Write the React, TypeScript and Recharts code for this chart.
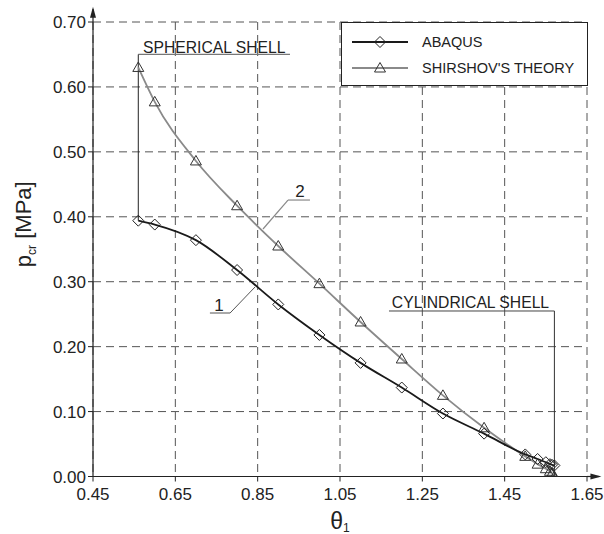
import {
  LineChart,
  Line,
  XAxis,
  YAxis,
  CartesianGrid,
  ReferenceLine,
  ReferenceDot,
  Legend,
} from "recharts";

const FONT = '"Liberation Sans", Arial, Helvetica, sans-serif';

const thetaTicks = [0.45, 0.65, 0.85, 1.05, 1.25, 1.45, 1.65];
const pressureTicks = [0, 0.1, 0.2, 0.3, 0.4, 0.5, 0.6, 0.7];

// theta_1 [rad] at which both solutions were evaluated
const theta = [0.56, 0.6, 0.7, 0.8, 0.9, 1.0, 1.1, 1.2, 1.3, 1.4, 1.5, 1.53, 1.55, 1.56, 1.565, 1.5708];
const abaqusP = [0.394, 0.388, 0.364, 0.318, 0.265, 0.218, 0.175, 0.137, 0.097, 0.066, 0.034, 0.027, 0.022, 0.019, 0.018, 0.017];
const shirshovP = [0.63, 0.577, 0.486, 0.417, 0.355, 0.297, 0.238, 0.181, 0.125, 0.075, 0.031, 0.019, 0.012, 0.008, 0.005, 0.0];

const abaqusData = theta.map((t, i) => ({ theta: t, p: abaqusP[i] }));
const shirshovData = theta.map((t, i) => ({ theta: t, p: shirshovP[i] }));

// annotation anchors, in data units
const spherical = { x0: 0.56, x1: 0.9285, y: 0.65, yEnd: 0.394, textX: 0.5715, textY: 0.6528 };
const cylindrical = { x0: 1.169, x1: 1.5708, y: 0.2549, textX: 1.176, textY: 0.2595 };
const label1 = { text: "1", tx: 0.756, ty: 0.2554, x0: 0.734, x1: 0.783, y: 0.2518, px: 0.8435, py: 0.2918 };
const label2 = { text: "2", tx: 0.953, ty: 0.4305, x0: 0.9237, x1: 0.977, y: 0.4258, px: 0.863, py: 0.3812 };

const diamond = (cx: number, cy: number, key?: string) => (
  <path
    key={key}
    d={`M${cx},${cy - 5.5}L${cx + 5.5},${cy}L${cx},${cy + 5.5}L${cx - 5.5},${cy}Z`}
    fill="none"
    stroke="#222"
    strokeWidth={1}
  />
);

const triangle = (cx: number, cy: number, key?: string) => (
  <path
    key={key}
    d={`M${cx},${cy - 5.5}L${cx + 5.5},${cy + 4}L${cx - 5.5},${cy + 4}Z`}
    fill="none"
    stroke="#333"
    strokeWidth={1}
  />
);

function LegendBox({ payload }: any) {
  const items = payload || [];
  return (
    <div
      style={{
        width: 247,
        height: 64,
        boxSizing: "border-box",
        border: "1.5px solid #222",
        background: "#fff",
        position: "relative",
        fontFamily: FONT,
        fontSize: 14.5,
        color: "#222",
      }}
    >
      {items.map((entry: any, i: number) => (
        <div
          key={entry.value}
          style={{ position: "absolute", left: 0, top: 11 + i * 26, height: 16, width: "100%" }}
        >
          <svg width={70} height={16} style={{ position: "absolute", left: 10, top: 0 }}>
            <line x1={0} y1={8} x2={56} y2={8} stroke={entry.color} strokeWidth={1.8} />
            {i === 0 ? diamond(28, 8) : triangle(28, 8)}
          </svg>
          <span style={{ position: "absolute", left: 80, top: 0, lineHeight: "16px", whiteSpace: "nowrap" }}>
            {entry.value}
          </span>
        </div>
      ))}
    </div>
  );
}

const annotationText = (text: string, size: number, anchor: "start" | "middle") => (p: any) => (
  <text x={p.cx} y={p.cy} fontFamily={FONT} fontSize={size} fill="#222" textAnchor={anchor}>
    {text}
  </text>
);

function PressureLabel({ viewBox }: any) {
  const cx = viewBox.x + 31;
  const cy = viewBox.y + viewBox.height / 2 - 25;
  return (
    <text
      x={cx}
      y={cy}
      transform={`rotate(-90 ${cx} ${cy})`}
      textAnchor="middle"
      fontFamily={FONT}
      fontSize={22}
      fill="#222"
    >
      <tspan>p</tspan>
      <tspan fontSize={12} dy={5}>cr</tspan>
      <tspan dy={-5}> [MPa]</tspan>
    </text>
  );
}

function ThetaLabel({ viewBox }: any) {
  const cx = viewBox.x + viewBox.width / 2;
  const cy = viewBox.y + 52;
  return (
    <text x={cx} y={cy} textAnchor="middle" fontFamily={FONT} fontSize={23} fill="#222">
      <tspan>θ</tspan>
      <tspan fontSize={12} dy={3}>1</tspan>
    </text>
  );
}

export default function App() {
  return (
    <div style={{ position: "absolute", left: 0, top: 0, width: 604, height: 534, background: "#fff" }}>
      <LineChart
        width={604}
        height={534}
        margin={{ top: 22, right: 17, left: 0, bottom: 0 }}
        style={{ fontFamily: FONT }}
      >
        <CartesianGrid
          stroke="#555"
          strokeDasharray="8 5"
          strokeWidth={1}
          horizontalValues={pressureTicks}
          verticalValues={thetaTicks}
        />
        <XAxis
          type="number"
          dataKey="theta"
          domain={[0.45, 1.65]}
          ticks={thetaTicks}
          interval={0}
          allowDataOverflow
          tickFormatter={(v: number) => v.toFixed(2)}
          tick={{ fill: "#222", fontSize: 17, fontFamily: FONT }}
          tickSize={5}
          tickMargin={6}
          axisLine={{ stroke: "#222", strokeWidth: 1.2 }}
          tickLine={{ stroke: "#222" }}
          height={57.5}
          label={(props: any) => <ThetaLabel {...props} />}
        />
        <YAxis
          type="number"
          dataKey="p"
          domain={[0, 0.7]}
          ticks={pressureTicks}
          interval={0}
          allowDataOverflow
          tickFormatter={(v: number) => v.toFixed(2)}
          tick={{ fill: "#222", fontSize: 17, fontFamily: FONT }}
          tickSize={5}
          tickMargin={2}
          axisLine={{ stroke: "#222", strokeWidth: 1.2 }}
          tickLine={{ stroke: "#222" }}
          width={93}
          label={(props: any) => <PressureLabel {...props} />}
        />

        {/* axis arrows */}
        <ReferenceLine segment={[{ x: 0.45, y: 0.7 }, { x: 0.45, y: 0.72 }]} stroke="#222" strokeWidth={1.2} ifOverflow="visible" />
        <ReferenceLine segment={[{ x: 1.65, y: 0 }, { x: 1.68, y: 0 }]} stroke="#222" strokeWidth={1.2} ifOverflow="visible" />
        <ReferenceDot
          x={0.45}
          y={0.7235}
          ifOverflow="visible"
          shape={(p: any) => <path d={`M${p.cx},${p.cy}L${p.cx + 3},${p.cy + 11}L${p.cx - 3},${p.cy + 11}Z`} fill="#222" />}
        />
        <ReferenceDot
          x={1.685}
          y={0}
          ifOverflow="visible"
          shape={(p: any) => <path d={`M${p.cx},${p.cy}L${p.cx - 11},${p.cy - 3}L${p.cx - 11},${p.cy + 3}Z`} fill="#222" />}
        />

        {/* spherical shell callout */}
        <ReferenceLine segment={[{ x: spherical.x0, y: spherical.y }, { x: spherical.x1, y: spherical.y }]} stroke="#777" strokeWidth={1.2} ifOverflow="visible" />
        <ReferenceLine segment={[{ x: spherical.x0, y: spherical.y }, { x: spherical.x0, y: spherical.yEnd }]} stroke="#222" strokeWidth={1} ifOverflow="visible" />
        <ReferenceDot x={spherical.textX} y={spherical.textY} ifOverflow="visible" shape={annotationText("SPHERICAL SHELL", 15.7, "start")} />

        {/* cylindrical shell callout */}
        <ReferenceLine segment={[{ x: cylindrical.x0, y: cylindrical.y }, { x: cylindrical.x1, y: cylindrical.y }]} stroke="#444" strokeWidth={1} ifOverflow="visible" />
        <ReferenceLine segment={[{ x: cylindrical.x1, y: cylindrical.y }, { x: cylindrical.x1, y: 0 }]} stroke="#333" strokeWidth={1} ifOverflow="visible" />
        <ReferenceDot x={cylindrical.textX} y={cylindrical.textY} ifOverflow="visible" shape={annotationText("CYLINDRICAL SHELL", 15.7, "start")} />

        {/* curve numbers */}
        <ReferenceLine segment={[{ x: label1.x0, y: label1.y }, { x: label1.x1, y: label1.y }]} stroke="#555" strokeWidth={1} />
        <ReferenceLine segment={[{ x: label1.x1, y: label1.y }, { x: label1.px, y: label1.py }]} stroke="#555" strokeWidth={1} />
        <ReferenceDot x={label1.tx} y={label1.ty} shape={annotationText(label1.text, 17, "middle")} />
        <ReferenceLine segment={[{ x: label2.x0, y: label2.y }, { x: label2.x1, y: label2.y }]} stroke="#888" strokeWidth={1.2} />
        <ReferenceLine segment={[{ x: label2.x0, y: label2.y }, { x: label2.px, y: label2.py }]} stroke="#888" strokeWidth={1.2} />
        <ReferenceDot x={label2.tx} y={label2.ty} shape={annotationText(label2.text, 17, "middle")} />

        <Line
          data={shirshovData}
          dataKey="p"
          name="SHIRSHOV'S THEORY"
          type="monotone"
          stroke="#8a8a8a"
          strokeWidth={1.8}
          isAnimationActive={false}
          dot={(p: any) => triangle(p.cx, p.cy, `s-${p.index}`)}
          activeDot={false}
        />
        <Line
          data={abaqusData}
          dataKey="p"
          name="ABAQUS"
          type="monotone"
          stroke="#1a1a1a"
          strokeWidth={1.8}
          isAnimationActive={false}
          dot={(p: any) => diamond(p.cx, p.cy, `a-${p.index}`)}
          activeDot={false}
        />

        <Legend
          layout="vertical"
          align="center"
          verticalAlign="middle"
          wrapperStyle={{ left: 341, top: 22, width: 247, height: 64 }}
          itemSorter={(item: any) => (item.value === "ABAQUS" ? 0 : 1)}
          content={(props: any) => <LegendBox {...props} />}
        />
      </LineChart>
    </div>
  );
}
